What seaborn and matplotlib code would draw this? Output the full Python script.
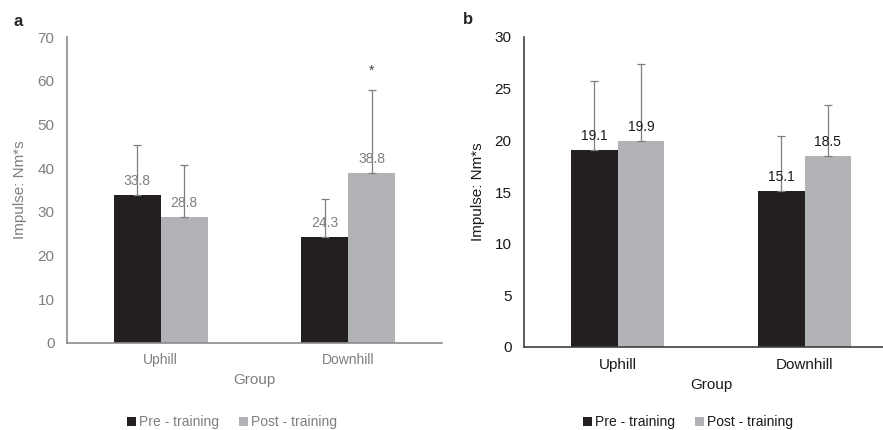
import matplotlib
matplotlib.use("Agg")
import matplotlib.pyplot as plt
import seaborn as sns
import pandas as pd
import numpy as np

groups = ["Uphill", "Downhill"]
phases = ["Pre - training", "Post - training"]

# Panel a
a_pre = [33.8, 24.3]
a_post = [28.8, 38.8]
a_pre_err = [11.5, 8.7]
a_post_err = [11.9, 19.1]
a_yticks = [0, 10, 20, 30, 40, 50, 60, 70]

# Panel b
b_pre = [19.1, 15.1]
b_post = [19.9, 18.5]
b_pre_err = [6.6, 5.3]
b_post_err = [7.5, 4.9]
b_yticks = [0, 5, 10, 15, 20, 25, 30]

colors = ["#231f20", "#b1b3b6"]

sns.set_style("white")
plt.rcParams["font.family"] = ["Liberation Sans", "DejaVu Sans"]

fig = plt.figure(figsize=(8.83, 4.30), dpi=100)


def make_df(pre, post):
    rows = []
    for g, v in zip(groups, pre):
        rows.append({"Group": g, "Phase": phases[0], "Value": v})
    for g, v in zip(groups, post):
        rows.append({"Group": g, "Phase": phases[1], "Value": v})
    return pd.DataFrame(rows)


def draw(ax, pre, post, pre_err, post_err, yticks, txtcolor, spinecolor,
         star=None, xfs=10, xpad=7.5, ylabx=-0.125):
    df = make_df(pre, post)
    sns.barplot(data=df, x="Group", y="Value", hue="Phase", order=groups,
                hue_order=phases, palette=colors, width=0.5, errorbar=None,
                saturation=1, linewidth=0, ax=ax, legend=True)
    errs = [pre_err, post_err]
    vals = [pre, post]
    bars_by_hue = [ax.containers[0], ax.containers[1]]
    for h, cont in enumerate(bars_by_hue):
        for i, patch in enumerate(cont.patches):
            xc = patch.get_x() + patch.get_width() / 2
            top = patch.get_height()
            ax.errorbar([xc], [top], yerr=[[0], [errs[h][i]]], fmt="none",
                        ecolor="#7f7f7f", elinewidth=0.9, capsize=3,
                        capthick=0.9, zorder=3)
            ax.annotate(f"{vals[h][i]:.1f}", (xc, top), xytext=(0, 5),
                        textcoords="offset points", ha="center", va="bottom",
                        fontsize=10, color=txtcolor, zorder=4)
    if star is not None:
        h, i, yv = star
        patch = bars_by_hue[h].patches[i]
        xc = patch.get_x() + patch.get_width() / 2
        ax.text(xc, yv, "*", ha="center", va="center", fontsize=10,
                color="#404040")
    ax.set_xlim(-0.5, 1.5)
    ax.set_ylim(0, yticks[-1])
    ax.set_yticks(yticks)
    ax.set_yticklabels([str(t) for t in yticks])
    for s in ["top", "right"]:
        ax.spines[s].set_visible(False)
    for s in ["left", "bottom"]:
        ax.spines[s].set_color(spinecolor)
        ax.spines[s].set_linewidth(1.2)
    ax.tick_params(axis="y", length=0, pad=9, labelsize=11,
                   labelcolor=txtcolor)
    ax.tick_params(axis="x", length=0, pad=xpad, labelsize=xfs,
                   labelcolor=txtcolor)
    ax.set_xlabel("Group", fontsize=11, color=txtcolor, labelpad=4)
    ax.set_ylabel("Impulse: Nm*s", fontsize=11, color=txtcolor)
    ax.yaxis.set_label_coords(ylabx, 0.5)
    handles, labels = ax.get_legend_handles_labels()
    ax.get_legend().remove()
    return handles, labels


ax1 = fig.add_axes([67 / 883, 1 - 343 / 430, 375 / 883, 306 / 430])
h1, l1 = draw(ax1, a_pre, a_post, a_pre_err, a_post_err, a_yticks,
              "#7f7f7f", "#8c8c8c", star=(1, 1, 62.2), xfs=10, xpad=7.5,
              ylabx=(27 - 67) / 375)
ax2 = fig.add_axes([524 / 883, 1 - 347 / 430, 374 / 883, 310 / 430])
h2, l2 = draw(ax2, b_pre, b_post, b_pre_err, b_post_err, b_yticks,
              "#1a1a1a", "#404040", xfs=11, xpad=8,
              ylabx=(485 - 524) / 374)

fig.legend(h1, l1, loc="center", bbox_to_anchor=(232 / 883, 1 - 422 / 430),
           ncol=2, frameon=False, handlelength=0.6, handleheight=0.6,
           handletextpad=0.2, columnspacing=1.5, fontsize=10,
           labelcolor="#7f7f7f")
fig.legend(h2, l2, loc="center", bbox_to_anchor=(688 / 883, 1 - 422 / 430),
           ncol=2, frameon=False, handlelength=0.6, handleheight=0.6,
           handletextpad=0.2, columnspacing=1.5, fontsize=10,
           labelcolor="#1a1a1a")

fig.text(14 / 883, 1 - 22 / 430, "a", fontsize=12, fontweight="bold",
         va="center", ha="left")
fig.text(463 / 883, 1 - 20 / 430, "b", fontsize=12, fontweight="bold",
         va="center", ha="left")

fig.savefig("out.png", dpi=100)
